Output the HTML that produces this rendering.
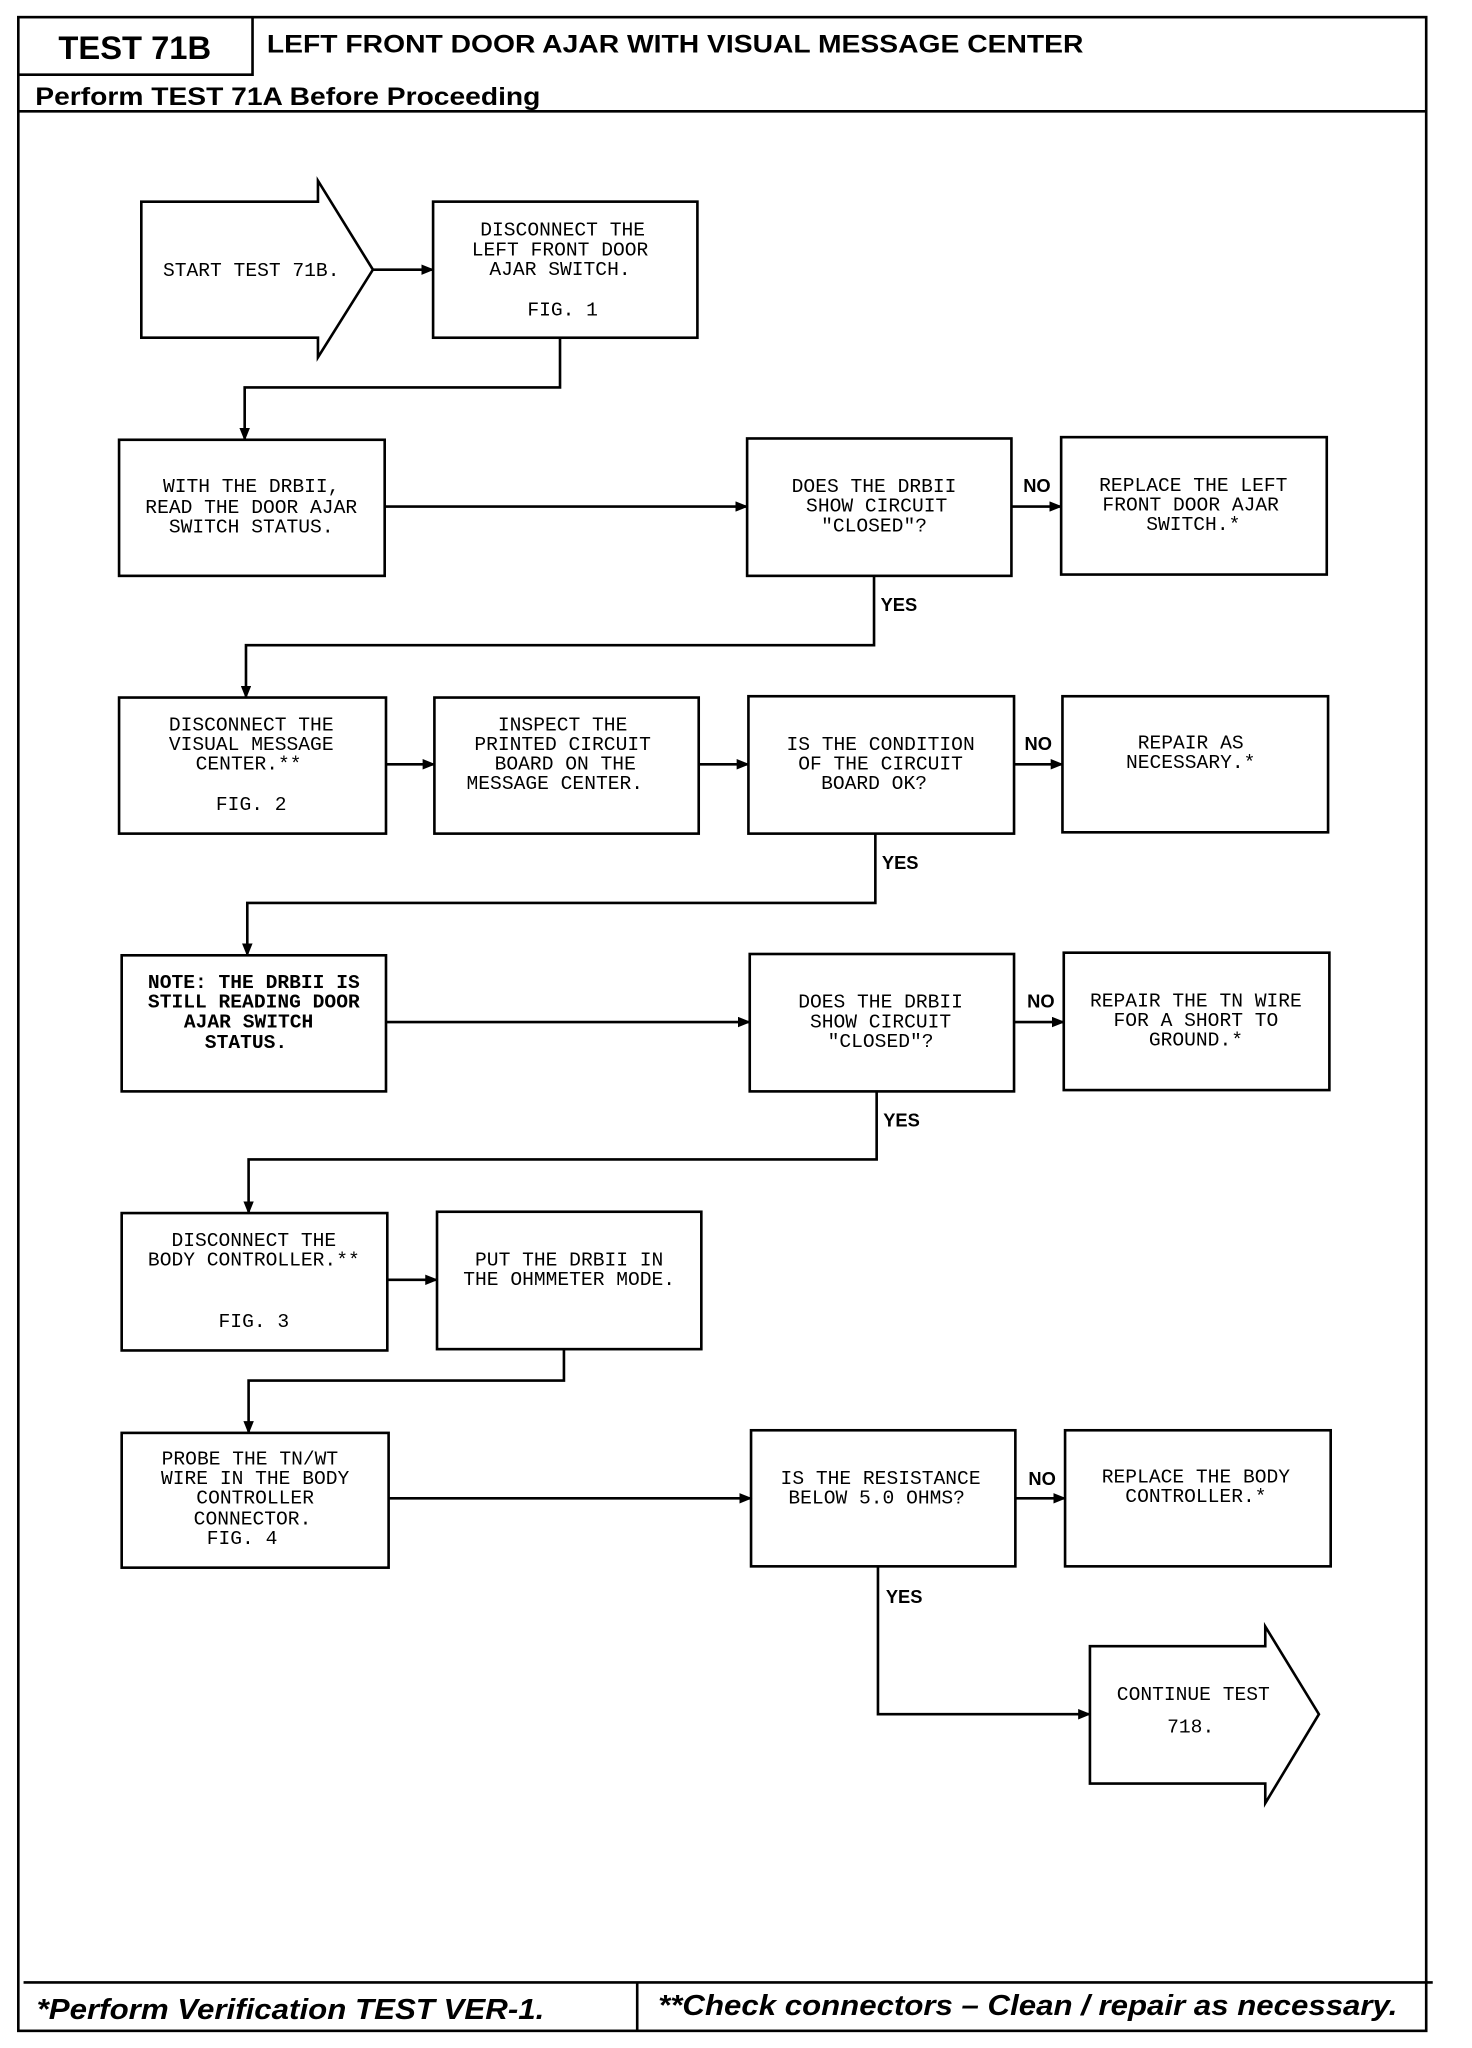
<!DOCTYPE html>
<html><head><meta charset="utf-8"><style>
html,body{margin:0;padding:0;background:#fff;}
svg{display:block;}
.t{font-family:"Liberation Mono",monospace;font-size:15px;fill:#000;text-anchor:middle;}
.l{font-family:"Liberation Sans",sans-serif;font-size:14px;font-weight:bold;fill:#000;}
</style></head><body>
<svg width="1472" height="2048" viewBox="0 0 1125 1565" xmlns="http://www.w3.org/2000/svg">
<defs><marker id="a" markerWidth="10" markerHeight="8" refX="9" refY="4" orient="auto" markerUnits="userSpaceOnUse"><path d="M0,0 L10,4 L0,8 Z" fill="#000"/></marker></defs>
<g fill="none" stroke="#000" stroke-width="2">
<rect x="14" y="13" width="1076" height="1539"/>
<line x1="14" y1="85" x2="1090" y2="85"/>
<polyline points="14,57 193,57 193,13"/>
<line x1="18" y1="1515" x2="1095" y2="1515"/>
<line x1="487" y1="1515" x2="487" y2="1552"/>
<polygon points="108,154 243,154 243,138 285,206 243,273 243,258 108,258"/>
<rect x="331" y="154" width="202" height="104"/>
<rect x="91" y="336" width="203" height="104"/>
<rect x="571" y="335" width="202" height="105"/>
<rect x="811" y="334" width="203" height="105"/>
<rect x="91" y="533" width="204" height="104"/>
<rect x="332" y="533" width="202" height="104"/>
<rect x="572" y="532" width="203" height="105"/>
<rect x="812" y="532" width="203" height="104"/>
<rect x="93" y="730" width="202" height="104"/>
<rect x="573" y="729" width="202" height="105"/>
<rect x="813" y="728" width="203" height="105"/>
<rect x="93" y="927" width="203" height="105"/>
<rect x="334" y="926" width="202" height="105"/>
<rect x="93" y="1095" width="204" height="103"/>
<rect x="574" y="1093" width="202" height="104"/>
<rect x="814" y="1093" width="203" height="104"/>
<polygon points="833,1258 967,1258 967,1243 1008,1310 967,1378 967,1363 833,1363"/>
</g>
<g fill="none" stroke="#000" stroke-width="2" marker-end="url(#a)">
<line x1="285" y1="206" x2="331" y2="206"/>
<polyline points="428,258 428,296 187,296 187,336"/>
<line x1="294" y1="387" x2="571" y2="387"/>
<line x1="773" y1="387" x2="811" y2="387"/>
<polyline points="668,440 668,493 188,493 188,533"/>
<line x1="295" y1="584" x2="332" y2="584"/>
<line x1="534" y1="584" x2="572" y2="584"/>
<line x1="775" y1="584" x2="812" y2="584"/>
<polyline points="669,637 669,690 189,690 189,730"/>
<line x1="295" y1="781" x2="573" y2="781"/>
<line x1="775" y1="781" x2="813" y2="781"/>
<polyline points="670,834 670,886 190,886 190,927"/>
<line x1="296" y1="978" x2="334" y2="978"/>
<polyline points="431,1031 431,1055 190,1055 190,1095"/>
<line x1="297" y1="1145" x2="574" y2="1145"/>
<line x1="776" y1="1145" x2="814" y2="1145"/>
<polyline points="671,1197 671,1310 833,1310"/>
</g>
<text x="103" y="45" style="font-family:'Liberation Sans',sans-serif;font-weight:bold;font-size:25px;text-anchor:middle">TEST 71B</text>
<text x="204" y="40" style="font-family:'Liberation Sans',sans-serif;font-weight:bold;font-size:19px" textLength="624" lengthAdjust="spacingAndGlyphs">LEFT FRONT DOOR AJAR WITH VISUAL MESSAGE CENTER</text>
<text x="27" y="80" style="font-family:'Liberation Sans',sans-serif;font-weight:bold;font-size:19px" textLength="386" lengthAdjust="spacingAndGlyphs">Perform TEST 71A Before Proceeding</text>
<text x="28" y="1543" style="font-family:'Liberation Sans',sans-serif;font-weight:bold;font-style:italic;font-size:22px" textLength="388" lengthAdjust="spacingAndGlyphs">*Perform Verification TEST VER-1.</text>
<text x="503" y="1540" style="font-family:'Liberation Sans',sans-serif;font-weight:bold;font-style:italic;font-size:22px" textLength="565" lengthAdjust="spacingAndGlyphs">**Check connectors – Clean / repair as necessary.</text>
<g class="t">
<text x="192" y="211">START TEST 71B.</text>
<text x="430" y="180">DISCONNECT THE</text><text x="428" y="195">LEFT FRONT DOOR</text><text x="428" y="210">AJAR SWITCH.</text><text x="430" y="241">FIG. 1</text>
<text x="192" y="376">WITH THE DRBII,</text><text x="192" y="392">READ THE DOOR AJAR</text><text x="192" y="407">SWITCH STATUS.</text>
<text x="668" y="376">DOES THE DRBII</text><text x="670" y="391">SHOW CIRCUIT</text><text x="668" y="406">"CLOSED"?</text>
<text x="912" y="375">REPLACE THE LEFT</text><text x="910" y="390">FRONT DOOR AJAR</text><text x="912" y="405">SWITCH.*</text>
<text x="192" y="558">DISCONNECT THE</text><text x="192" y="573">VISUAL MESSAGE</text><text x="190" y="588">CENTER.**</text><text x="192" y="619">FIG. 2</text>
<text x="430" y="558">INSPECT THE</text><text x="430" y="573">PRINTED CIRCUIT</text><text x="432" y="588">BOARD ON THE</text><text x="424" y="603">MESSAGE CENTER.</text>
<text x="673" y="573">IS THE CONDITION</text><text x="673" y="588">OF THE CIRCUIT</text><text x="668" y="603">BOARD OK?</text>
<text x="910" y="572">REPAIR AS</text><text x="910" y="587">NECESSARY.*</text>
<text x="194" y="755" style="font-weight:bold">NOTE: THE DRBII IS</text><text x="194" y="770" style="font-weight:bold">STILL READING DOOR</text><text x="190" y="785" style="font-weight:bold">AJAR SWITCH</text><text x="188" y="801" style="font-weight:bold">STATUS.</text>
<text x="673" y="770">DOES THE DRBII</text><text x="673" y="785">SHOW CIRCUIT</text><text x="673" y="800">"CLOSED"?</text>
<text x="914" y="769">REPAIR THE TN WIRE</text><text x="914" y="784">FOR A SHORT TO</text><text x="914" y="799">GROUND.*</text>
<text x="194" y="952">DISCONNECT THE</text><text x="194" y="967">BODY CONTROLLER.**</text><text x="194" y="1014">FIG. 3</text>
<text x="435" y="967">PUT THE DRBII IN</text><text x="435" y="982">THE OHMMETER MODE.</text>
<text x="191" y="1119">PROBE THE TN/WT</text><text x="195" y="1134">WIRE IN THE BODY</text><text x="195" y="1149">CONTROLLER</text><text x="193" y="1165">CONNECTOR.</text><text x="185" y="1180">FIG. 4</text>
<text x="673" y="1134">IS THE RESISTANCE</text><text x="670" y="1149">BELOW 5.0 OHMS?</text>
<text x="914" y="1133">REPLACE THE BODY</text><text x="914" y="1148">CONTROLLER.*</text>
<text x="912" y="1299">CONTINUE TEST</text><text x="910" y="1324">718.</text>
</g>
<g class="l">
<text x="782" y="376">NO</text><text x="673" y="467">YES</text>
<text x="783" y="573">NO</text><text x="674" y="664">YES</text>
<text x="785" y="770">NO</text><text x="675" y="861">YES</text>
<text x="786" y="1135">NO</text><text x="677" y="1225">YES</text>
</g>
</svg>
</body></html>
